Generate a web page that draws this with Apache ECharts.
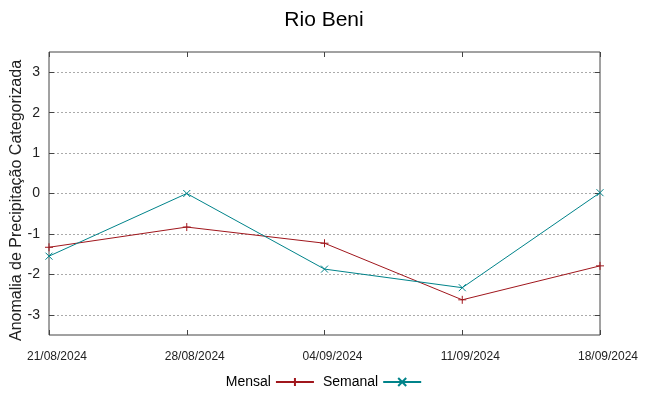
<!DOCTYPE html>
<html><head><meta charset="utf-8">
<script src="https://cdn.jsdelivr.net/npm/echarts@6/dist/echarts.min.js"></script>
<style>html,body{margin:0;padding:0;background:#fff}#c{width:648px;height:396px}</style>
</head><body><div id="c"></div>
<script>
const categories = ['21/08/2024','28/08/2024','04/09/2024','11/09/2024','18/09/2024'];
const mensal = [-1.33, -0.83, -1.23, -2.63, -1.79];
const semanal = [-1.55, 0.0, -1.87, -2.33, 0.02];
const yTicks = [-3,-2,-1,0,1,2,3];
const FONT = "'Liberation Sans',Arial,sans-serif";
const RED = '#a0161c', TEAL = '#00838a';
const plus = 'path://M0,5L10,5M5,0L5,10';
const cross = 'path://M0,0L10,10M10,0L0,10';
const chart = echarts.init(document.getElementById('c'), null, {renderer:'canvas'});
chart.setOption({
  animation:false,
  backgroundColor:'#fff',
  textStyle:{fontFamily:FONT},
  title:{text:'Rio Beni', left:'center', top:5, textStyle:{fontFamily:FONT, fontSize:21, fontWeight:'normal', color:'#000'}},
  grid:{left:49, right:48, top:52, bottom:61, show:true, borderColor:'#444', borderWidth:1, outerBoundsMode:'none', containLabel:false},
  legend:{bottom:2, left:'center', align:'right', itemWidth:38, itemHeight:10, itemGap:8,
    textStyle:{fontFamily:FONT, fontSize:14, color:'#000'},
    data:['Mensal','Semanal']},
  xAxis:[{type:'category', data:categories, boundaryGap:false, position:'bottom',
    axisLine:{show:false, onZero:false}, axisTick:{show:true, inside:true, length:5, lineStyle:{color:'#444'}},
    axisLabel:{fontFamily:FONT, fontSize:12, color:'#222', margin:16, padding:[0,0,0,16]}, splitLine:{show:false}},
   {type:'category', data:categories, boundaryGap:false, position:'top',
    axisLine:{show:false, onZero:false}, axisTick:{show:true, inside:true, length:5, lineStyle:{color:'#444'}},
    axisLabel:{show:false}, splitLine:{show:false}}],
  yAxis:[{type:'value', min:-3.5, max:3.5, position:'left',
    name:'Anomalia de Precipitação Categorizada', nameLocation:'middle', nameGap:24, nameRotate:90,
    nameMoveOverlap:false,
    nameTextStyle:{fontFamily:FONT, fontSize:16, color:'#222', padding:[0,14,0,0]},
    axisLine:{show:false},
    axisTick:{show:true, inside:true, length:5, customValues:yTicks, lineStyle:{color:'#444'}},
    axisLabel:{fontFamily:FONT, fontSize:14, color:'#222', margin:9, customValues:yTicks},
    splitLine:{show:true, lineStyle:{color:'#aaa', type:[2,2], width:1}}},
   {type:'value', min:-3.5, max:3.5, position:'right',
    axisLine:{show:false},
    axisTick:{show:true, inside:true, length:5, customValues:yTicks, lineStyle:{color:'#444'}},
    axisLabel:{show:false, customValues:yTicks}, splitLine:{show:false}}],
  series:[
   {name:'Mensal', type:'line', data:mensal, symbol:plus, symbolSize:8, showAllSymbol:true,
    lineStyle:{color:RED, width:1}, itemStyle:{color:RED, borderColor:RED, borderWidth:1}},
   {name:'Semanal', type:'line', data:semanal, symbol:cross, symbolSize:7, showAllSymbol:true,
    lineStyle:{color:TEAL, width:1}, itemStyle:{color:TEAL, borderColor:TEAL, borderWidth:1}}
  ]
});
</script></body></html>
